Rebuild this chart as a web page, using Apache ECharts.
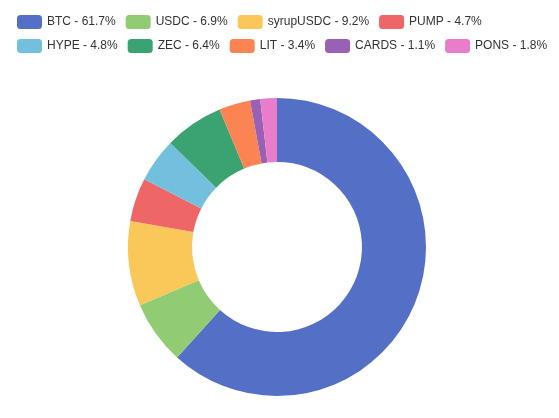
<!DOCTYPE html>
<html><head><meta charset="utf-8">
<script src="https://cdn.jsdelivr.net/npm/echarts@6/dist/echarts.min.js"></script>
<style>html,body{margin:0;padding:0;background:#fff}#c{width:559px;height:418px}</style>
</head><body><div id="c"></div>
<script>
const categories = ["BTC","USDC","syrupUSDC","PUMP","HYPE","ZEC","LIT","CARDS","PONS"];
const values = [61.7,6.9,9.2,4.7,4.8,6.4,3.4,1.1,1.8];
const colors = ["#5470c6","#91cc75","#fac858","#ee6666","#73c0de","#3ba272","#fc8452","#9a60b4","#ea7ccc"];
const names = categories.map((c,i)=>c+" - "+values[i]+"%");
const chart = echarts.init(document.getElementById('c'));
chart.setOption({
  animation:false,
  color:colors,
  legend:{left:12,top:10,itemWidth:25,itemHeight:14,itemGap:10,
    textStyle:{fontSize:12,color:'#333'},data:names},
  series:[{type:'pie',center:[277,247],radius:[85,149],
    label:{show:false},labelLine:{show:false},
    data:names.map((n,i)=>({name:n,value:values[i]}))}]
});
</script></body></html>
